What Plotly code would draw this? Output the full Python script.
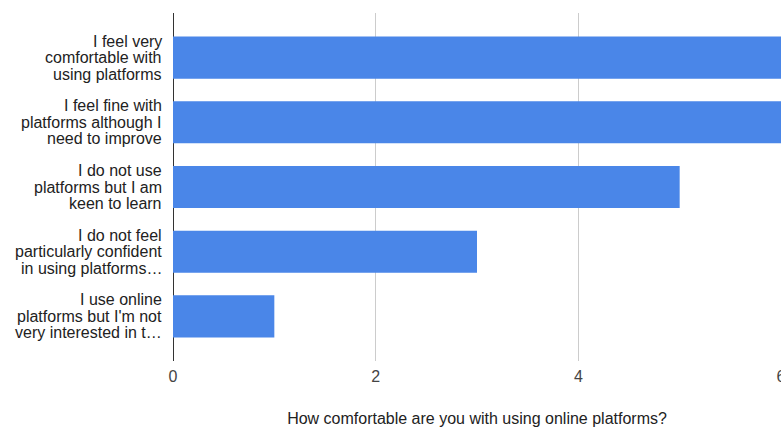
import plotly.graph_objects as go

categories = [
    "I feel very<br>comfortable with<br>using platforms",
    "I feel fine with<br>platforms although I<br>need to improve",
    "I do not use<br>platforms but I am<br>keen to learn",
    "I do not feel<br>particularly confident<br>in using platforms…",
    "I use online<br>platforms but I'm not<br>very interested in t…",
]
values = [6, 6, 5, 3, 1]
x_ticks = [0, 2, 4, 6]
x_title = "How comfortable are you with using online platforms?"

FONT = "Arial, Liberation Sans, sans-serif"
LINE_PITCH = 16.5

fig = go.Figure(go.Bar(
    x=values,
    y=list(range(len(categories))),
    orientation="h",
    marker=dict(color="#4a86e8", line=dict(width=0)),
    hoverinfo="skip",
    cliponaxis=True,
))

annotations = []
for i, label in enumerate(categories):
    lines = label.split("<br>")
    n = len(lines)
    for j, line in enumerate(lines):
        annotations.append(dict(
            xref="paper", x=0, yref="y", y=i,
            text=line, showarrow=False,
            xanchor="right", yanchor="middle",
            xshift=-9, yshift=((n - 1) / 2 - j) * LINE_PITCH,
            font=dict(family=FONT, size=16, color="#222222"),
        ))

fig.update_layout(
    width=781, height=430,
    margin=dict(l=173, r=0, t=13, b=69),
    paper_bgcolor="white", plot_bgcolor="white",
    bargap=0.35,
    showlegend=False,
    font=dict(family=FONT, size=16, color="#222222"),
    annotations=annotations,
)
fig.update_xaxes(
    range=[0, 6],
    tickvals=x_ticks,
    ticktext=[str(v) for v in x_ticks],
    showgrid=True, gridcolor="#cccccc", gridwidth=1,
    zeroline=True, zerolinecolor="#333333", zerolinewidth=1,
    showline=False,
    tickfont=dict(family=FONT, size=16, color="#444444"),
    ticklabelstandoff=4,
    ticklabeloverflow="allow",
    automargin=False,
    title=dict(text=x_title, font=dict(family=FONT, size=16, color="#222222"), standoff=28),
    fixedrange=True,
)
fig.update_yaxes(
    range=[len(categories) - 1 + 0.69, -0.69],
    tickvals=list(range(len(categories))),
    showticklabels=False,
    showgrid=False, zeroline=False, showline=False,
    automargin=False,
    fixedrange=True,
)

fig.write_html("out.html", config={"displayModeBar": False})
